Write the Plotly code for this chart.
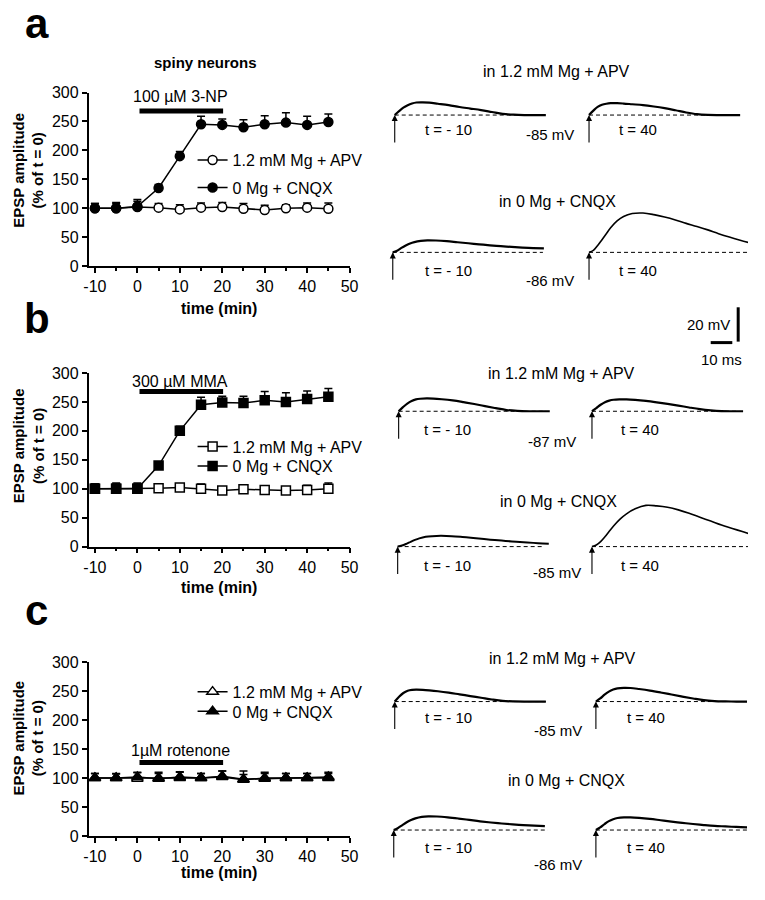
import plotly.graph_objects as go

# ---------------- data: time courses (% of t = 0) ----------------
time_min = [-10, -5, 0, 5, 10, 15, 20, 25, 30, 35, 40, 45]

a_apv = [100, 100, 102, 101, 98, 101, 102, 99, 97, 100, 101, 99]
a_apv_err = [8, 8, 10, 7, 8, 8, 8, 9, 8, 6, 8, 10]
a_cnqx = [100, 100, 103, 135, 190, 245, 244, 240, 245, 248, 244, 249]
a_cnqx_err = [8, 10, 12, 6, 8, 14, 10, 13, 15, 17, 15, 14]

b_apv = [100, 100, 100, 101, 102, 100, 97, 99, 98, 97, 98, 100]
b_apv_err = [8, 8, 8, 5, 6, 8, 6, 6, 6, 6, 8, 10]
b_cnqx = [100, 100, 100, 140, 200, 245, 249, 248, 253, 250, 255, 259]
b_cnqx_err = [8, 10, 10, 5, 8, 13, 11, 12, 15, 16, 14, 14]

c_apv = [100, 100, 99, 100, 100, 100, 102, 97, 100, 100, 100, 100]
c_apv_err = [8, 8, 10, 10, 10, 8, 10, 15, 10, 8, 8, 8]
c_cnqx = [100, 100, 102, 99, 102, 100, 103, 98, 99, 100, 100, 102]
c_cnqx_err = [8, 7, 8, 9, 9, 8, 9, 8, 9, 8, 8, 8]

legend_names = ["1.2 mM Mg + APV", "0 Mg + CNQX"]
drug_labels = ["100 µM 3-NP", "300 µM MMA", "1µM rotenone"]
drug_window = [0.5, 20.2]          # min
drug_bar_level = [268, 268, 127]   # % (height of the bar)
drug_text_level = [293, 286, 147]
x_ticks = [-10, 0, 10, 20, 30, 40, 50]
x_tick_text = ["-10", "0", "10", "20", "30", "40", "50"]
y_ticks = [0, 50, 100, 150, 200, 250, 300]

# ---------------- data: EPSP traces (mV above baseline vs ms) ----------------
trace_t_ms = [0, 2, 4, 6, 8, 10, 13, 16, 20, 25, 30, 35, 40, 45, 50, 55, 60, 65, 70, 75]

a_apv_m10 = [0, 2.3, 4.3, 5.7, 6.7, 7.3, 7.4, 7.2, 6.6, 5.8, 4.7, 3.8, 2.9, 1.8, 0.7, 0.2, 0, 0, 0]
a_apv_40 = [0, 2.6, 4.8, 6.0, 6.6, 6.9, 6.9, 6.7, 6.3, 5.8, 5.0, 4.0, 2.8, 1.5, 0.5, 0.1, 0, 0, 0]
a_cnqx_m10 = [0, 1.0, 2.6, 4.0, 5.2, 6.0, 6.7, 7.0, 6.9, 6.5, 5.9, 5.3, 4.7, 4.1, 3.6, 3.2, 2.8, 2.5, 2.3]
a_cnqx_40 = [0, 1.1, 4.0, 7.4, 10.9, 14.3, 18.3, 20.9, 22.6, 22.9, 22.0, 20.6, 18.9, 16.9, 15.1, 13.1, 10.9, 8.9, 7.1, 5.4]

b_apv_m10 = [0, 2.4, 4.5, 6.0, 6.9, 7.3, 7.5, 7.4, 7.0, 6.3, 5.3, 4.2, 3.0, 1.8, 0.7, 0.2, 0, 0, 0]
b_apv_40 = [0, 1.8, 3.8, 5.3, 6.2, 6.7, 6.9, 6.9, 6.6, 6.0, 5.2, 4.3, 3.3, 2.2, 1.2, 0.5, 0.1, 0, 0]
b_cnqx_m10 = [0, 0.6, 1.6, 2.8, 3.9, 4.8, 5.7, 6.1, 6.3, 6.1, 5.6, 5.0, 4.4, 3.8, 3.3, 2.8, 2.4, 2.0, 1.7]
b_cnqx_40 = [0, 0.9, 2.9, 5.7, 8.9, 12.0, 16.0, 19.1, 22.0, 24.0, 23.7, 22.9, 21.4, 19.4, 17.1, 14.9, 12.6, 10.6, 8.6, 6.6]

c_apv_m10 = [0, 2.8, 5.0, 6.3, 6.8, 6.9, 6.8, 6.5, 6.0, 5.2, 4.2, 3.2, 2.2, 1.2, 0.4, 0.1, 0, 0, 0]
c_apv_40 = [0, 1.8, 4.0, 5.8, 7.0, 7.7, 8.0, 7.9, 7.3, 6.4, 5.3, 4.1, 2.9, 1.8, 0.8, 0.3, 0.1, 0, 0]
c_cnqx_m10 = [0, 1.2, 2.9, 4.5, 5.8, 6.8, 7.7, 8.0, 7.9, 7.4, 6.7, 5.9, 5.1, 4.4, 3.8, 3.3, 2.9, 2.6, 2.3]
c_cnqx_40 = [0, 1.5, 3.5, 5.2, 6.3, 7.0, 7.4, 7.4, 7.1, 6.5, 5.7, 4.9, 4.2, 3.5, 2.9, 2.4, 2.1, 1.8, 1.6]

trace_time_labels = ["t = - 10", "t = 40"]
holding_labels = [["-85 mV", "-86 mV"], ["-87 mV", "-85 mV"], ["-85 mV", "-86 mV"]]
condition_labels = ["in 1.2 mM Mg + APV", "in 0 Mg + CNQX"]
scale_mv, scale_ms = 20, 10

# ---------------- layout constants (positions given in window pixels) ----------------
OFF = 8                      # page body margin of the browser
W, H = 765 - 2 * OFF, 900 - 2 * OFF
FONT = "Liberation Sans, Arial, Helvetica, sans-serif"
PX_PER_MS, PX_PER_MV = 2.2, 1.75


def fx(xpx):
    return (xpx - OFF) / W


def fy(ypx):
    return 1 - (ypx - OFF) / H


def px_ms(xpx):
    return xpx / PX_PER_MS


def px_mv(ypx):
    return (900 - ypx) / PX_PER_MV


def ann(text, xpx, ypx, size=15, bold=False, angle=0, xanchor="center"):
    if bold:
        text = "<b>" + text + "</b>"
    return dict(xref="paper", yref="paper", x=fx(xpx), y=fy(ypx), text=text,
                showarrow=False, textangle=angle, xanchor=xanchor, yanchor="middle",
                font=dict(family=FONT, size=size, color="black"))


fig = go.Figure()
annotations = []
shapes = []

panels = [
    dict(apv=a_apv, apv_e=a_apv_err, cnqx=a_cnqx, cnqx_e=a_cnqx_err, sym="circle",
         ytop=86, ybot=263, rows=(155, 183), label="a", label_y=16, ytitle_y=165, xtitle_y=306),
    dict(apv=b_apv, apv_e=b_apv_err, cnqx=b_cnqx, cnqx_e=b_cnqx_err, sym="square",
         ytop=372, ybot=549, rows=(447, 467), label="b", label_y=316, ytitle_y=446, xtitle_y=591),
    dict(apv=c_apv, apv_e=c_apv_err, cnqx=c_cnqx, cnqx_e=c_cnqx_err, sym="triangle-up",
         ytop=667, ybot=844, rows=(697, 717), label="c", label_y=614, ytitle_y=744, xtitle_y=881),
]

XL, XR = 85, 351
LEG_X = 191
for i, p in enumerate(panels):
    s = "" if i == 0 else str(i + 1)
    msize = 10 if p["sym"] == "triangle-up" else 9
    series = [(legend_names[0], p["apv"], p["apv_e"], False),
              (legend_names[1], p["cnqx"], p["cnqx_e"], True)]
    for k, (name, vals, errs, filled) in enumerate(series):
        n = 2 * i + k + 1
        lg = "legend" if n == 1 else "legend" + str(n)
        fig.add_trace(go.Scatter(
            x=time_min, y=vals, name=name, mode="lines+markers",
            xaxis="x" + s, yaxis="y" + s, legend=lg,
            line=dict(color="black", width=1.5),
            marker=dict(symbol=p["sym"], size=msize, color="black" if filled else "white",
                        line=dict(color="black", width=1.5)),
            error_y=dict(type="data", array=errs, arrayminus=[0] * len(errs), symmetric=False,
                         color="black", thickness=1.5, width=4),
            hoverinfo="skip"))
        fig.layout[lg] = dict(
            x=fx(LEG_X), y=fy(p["rows"][k]), xanchor="left", yanchor="middle",
            bgcolor="rgba(0,0,0,0)", font=dict(family=FONT, size=16, color="black"),
            itemwidth=30)
    fig.layout["xaxis" + s] = dict(
        domain=[fx(XL), fx(XR)], anchor="y" + s, range=[-11.5, 50],
        tickvals=x_ticks, ticktext=x_tick_text,
        showline=True, linecolor="black", linewidth=1.5, ticks="outside", ticklen=5,
        tickwidth=1.5, tickcolor="black", showgrid=False, zeroline=False,
        tickfont=dict(family=FONT, size=16, color="black"),
        minor=dict(dtick=5, tick0=0, ticks="outside", ticklen=3, tickwidth=1.5,
                   tickcolor="black", showgrid=False))
    fig.layout["yaxis" + s] = dict(
        domain=[fy(p["ybot"]), fy(p["ytop"])], anchor="x" + s, range=[0, 300],
        tickvals=y_ticks, showline=True, linecolor="black", linewidth=1.5, ticks="outside",
        ticklen=5, tickwidth=1.5, tickcolor="black", showgrid=False, zeroline=False,
        tickfont=dict(family=FONT, size=16, color="black"))
    # drug application bar + label
    shapes.append(dict(type="line", xref="x" + s, yref="y" + s, x0=drug_window[0], x1=drug_window[1],
                       y0=drug_bar_level[i], y1=drug_bar_level[i], line=dict(color="black", width=5)))
    annotations.append(dict(xref="x" + s, yref="y" + s, x=(drug_window[0] + drug_window[1]) / 2 - 0.2,
                            y=drug_text_level[i], text=drug_labels[i], showarrow=False,
                            font=dict(family=FONT, size=16, color="black")))
    # titles
    annotations.append(ann("EPSP amplitude<br>(% of t = 0)", 24, p["ytitle_y"], size=15, bold=True, angle=-90))
    annotations.append(ann("time (min)", 218, p["xtitle_y"], size=16, bold=True))
    annotations.append(ann(p["label"], 32, p["label_y"], size=42, bold=True))

annotations.append(ann("spiny neurons", 204, 55, size=15, bold=True))

# ---------------- EPSP traces (overlay axis in ms / mV) ----------------
fig.layout["xaxis7"] = dict(domain=[0, 1], anchor="y7", range=[px_ms(OFF), px_ms(765 - OFF)],
                            visible=False, fixedrange=True)
fig.layout["yaxis7"] = dict(domain=[0, 1], anchor="x7", range=[px_mv(900 - OFF), px_mv(OFF)],
                            visible=False, fixedrange=True)

trace_sets = [
    # (waveform, onset x px, baseline y px, dashed end x px, width)
    [(a_apv_m10, 397, 109, 548, 2.2), (a_apv_40, 595, 109, 746, 2.2),
     (a_cnqx_m10, 395, 249, 548, 2.2), (a_cnqx_40, 595, 249, 757, 1.6)],
    [(b_apv_m10, 401, 411, 551, 2.2), (b_apv_40, 598, 411, 748, 2.2),
     (b_cnqx_m10, 400, 549, 547, 2.0), (b_cnqx_40, 598, 549, 757, 1.6)],
    [(c_apv_m10, 397, 707, 553, 2.2), (c_apv_40, 602, 707, 757, 2.2),
     (c_cnqx_m10, 396, 838, 553, 2.2), (c_cnqx_40, 602, 838, 757, 2.2)],
]
label_pos = [
    dict(h1=(562, 65), h2=(563, 197), t_top=124, t_bot=267, mv_top=(555, 129), mv_bot=(555, 278), tx=(452, 645)),
    dict(h1=(567, 372), h2=(564, 503), t_top=430, t_bot=568, mv_top=(557, 442), mv_bot=(562, 575), tx=(451, 647)),
    dict(h1=(568, 663), h2=(572, 787), t_top=723, t_bot=856, mv_top=(563, 737), mv_bot=(563, 873), tx=(452, 653)),
]

for i, tset in enumerate(trace_sets):
    for wave, ox, by, ex, lw in tset:
        t0, v0 = px_ms(ox), px_mv(by)
        fig.add_trace(go.Scatter(x=[t0, px_ms(ex)], y=[v0, v0], mode="lines", xaxis="x7", yaxis="y7",
                                 line=dict(color="black", width=1, dash="4px,3px"),
                                 showlegend=False, hoverinfo="skip"))
        fig.add_trace(go.Scatter(x=[t0 + t for t in trace_t_ms[:len(wave)]], y=[v0 + v for v in wave],
                                 mode="lines", xaxis="x7", yaxis="y7",
                                 line=dict(color="black", width=lw, shape="spline"),
                                 showlegend=False, hoverinfo="skip"))
        annotations.append(dict(xref="x7", yref="y7", x=t0, y=v0, ax=0, ay=29, text="", showarrow=True,
                                arrowhead=2, arrowsize=1.1, arrowwidth=1.1, arrowcolor="black", standoff=0))
    lp = label_pos[i]
    annotations.append(ann(condition_labels[0], *lp["h1"], size=16))
    annotations.append(ann(condition_labels[1], *lp["h2"], size=16))
    annotations.append(ann(trace_time_labels[0], lp["tx"][0], lp["t_top"], size=15))
    annotations.append(ann(trace_time_labels[1], lp["tx"][1], lp["t_top"], size=15))
    annotations.append(ann(trace_time_labels[0], lp["tx"][0], lp["t_bot"], size=15))
    annotations.append(ann(trace_time_labels[1], lp["tx"][1], lp["t_bot"], size=15))
    annotations.append(ann(holding_labels[i][0], *lp["mv_top"], size=15))
    annotations.append(ann(holding_labels[i][1], *lp["mv_bot"], size=15))

# scale bar
sb_x, sb_y = px_ms(747), px_mv(340)
fig.add_trace(go.Scatter(x=[sb_x, sb_x], y=[sb_y, sb_y + scale_mv], mode="lines", xaxis="x7", yaxis="y7",
                         line=dict(color="black", width=3), showlegend=False, hoverinfo="skip"))
hb_end, hb_y = px_ms(741), px_mv(341)
fig.add_trace(go.Scatter(x=[hb_end - scale_ms, hb_end], y=[hb_y, hb_y], mode="lines", xaxis="x7", yaxis="y7",
                         line=dict(color="black", width=3), showlegend=False, hoverinfo="skip"))
annotations.append(ann("20 mV", 717, 323, size=15))
annotations.append(ann("10 ms", 730, 358, size=15))

fig.update_layout(width=W, height=H, margin=dict(l=0, r=0, t=0, b=0),
                  paper_bgcolor="white", plot_bgcolor="rgba(0,0,0,0)",
                  annotations=annotations, shapes=shapes, showlegend=True,
                  font=dict(family=FONT, color="black"))
fig.write_html("out.html")
